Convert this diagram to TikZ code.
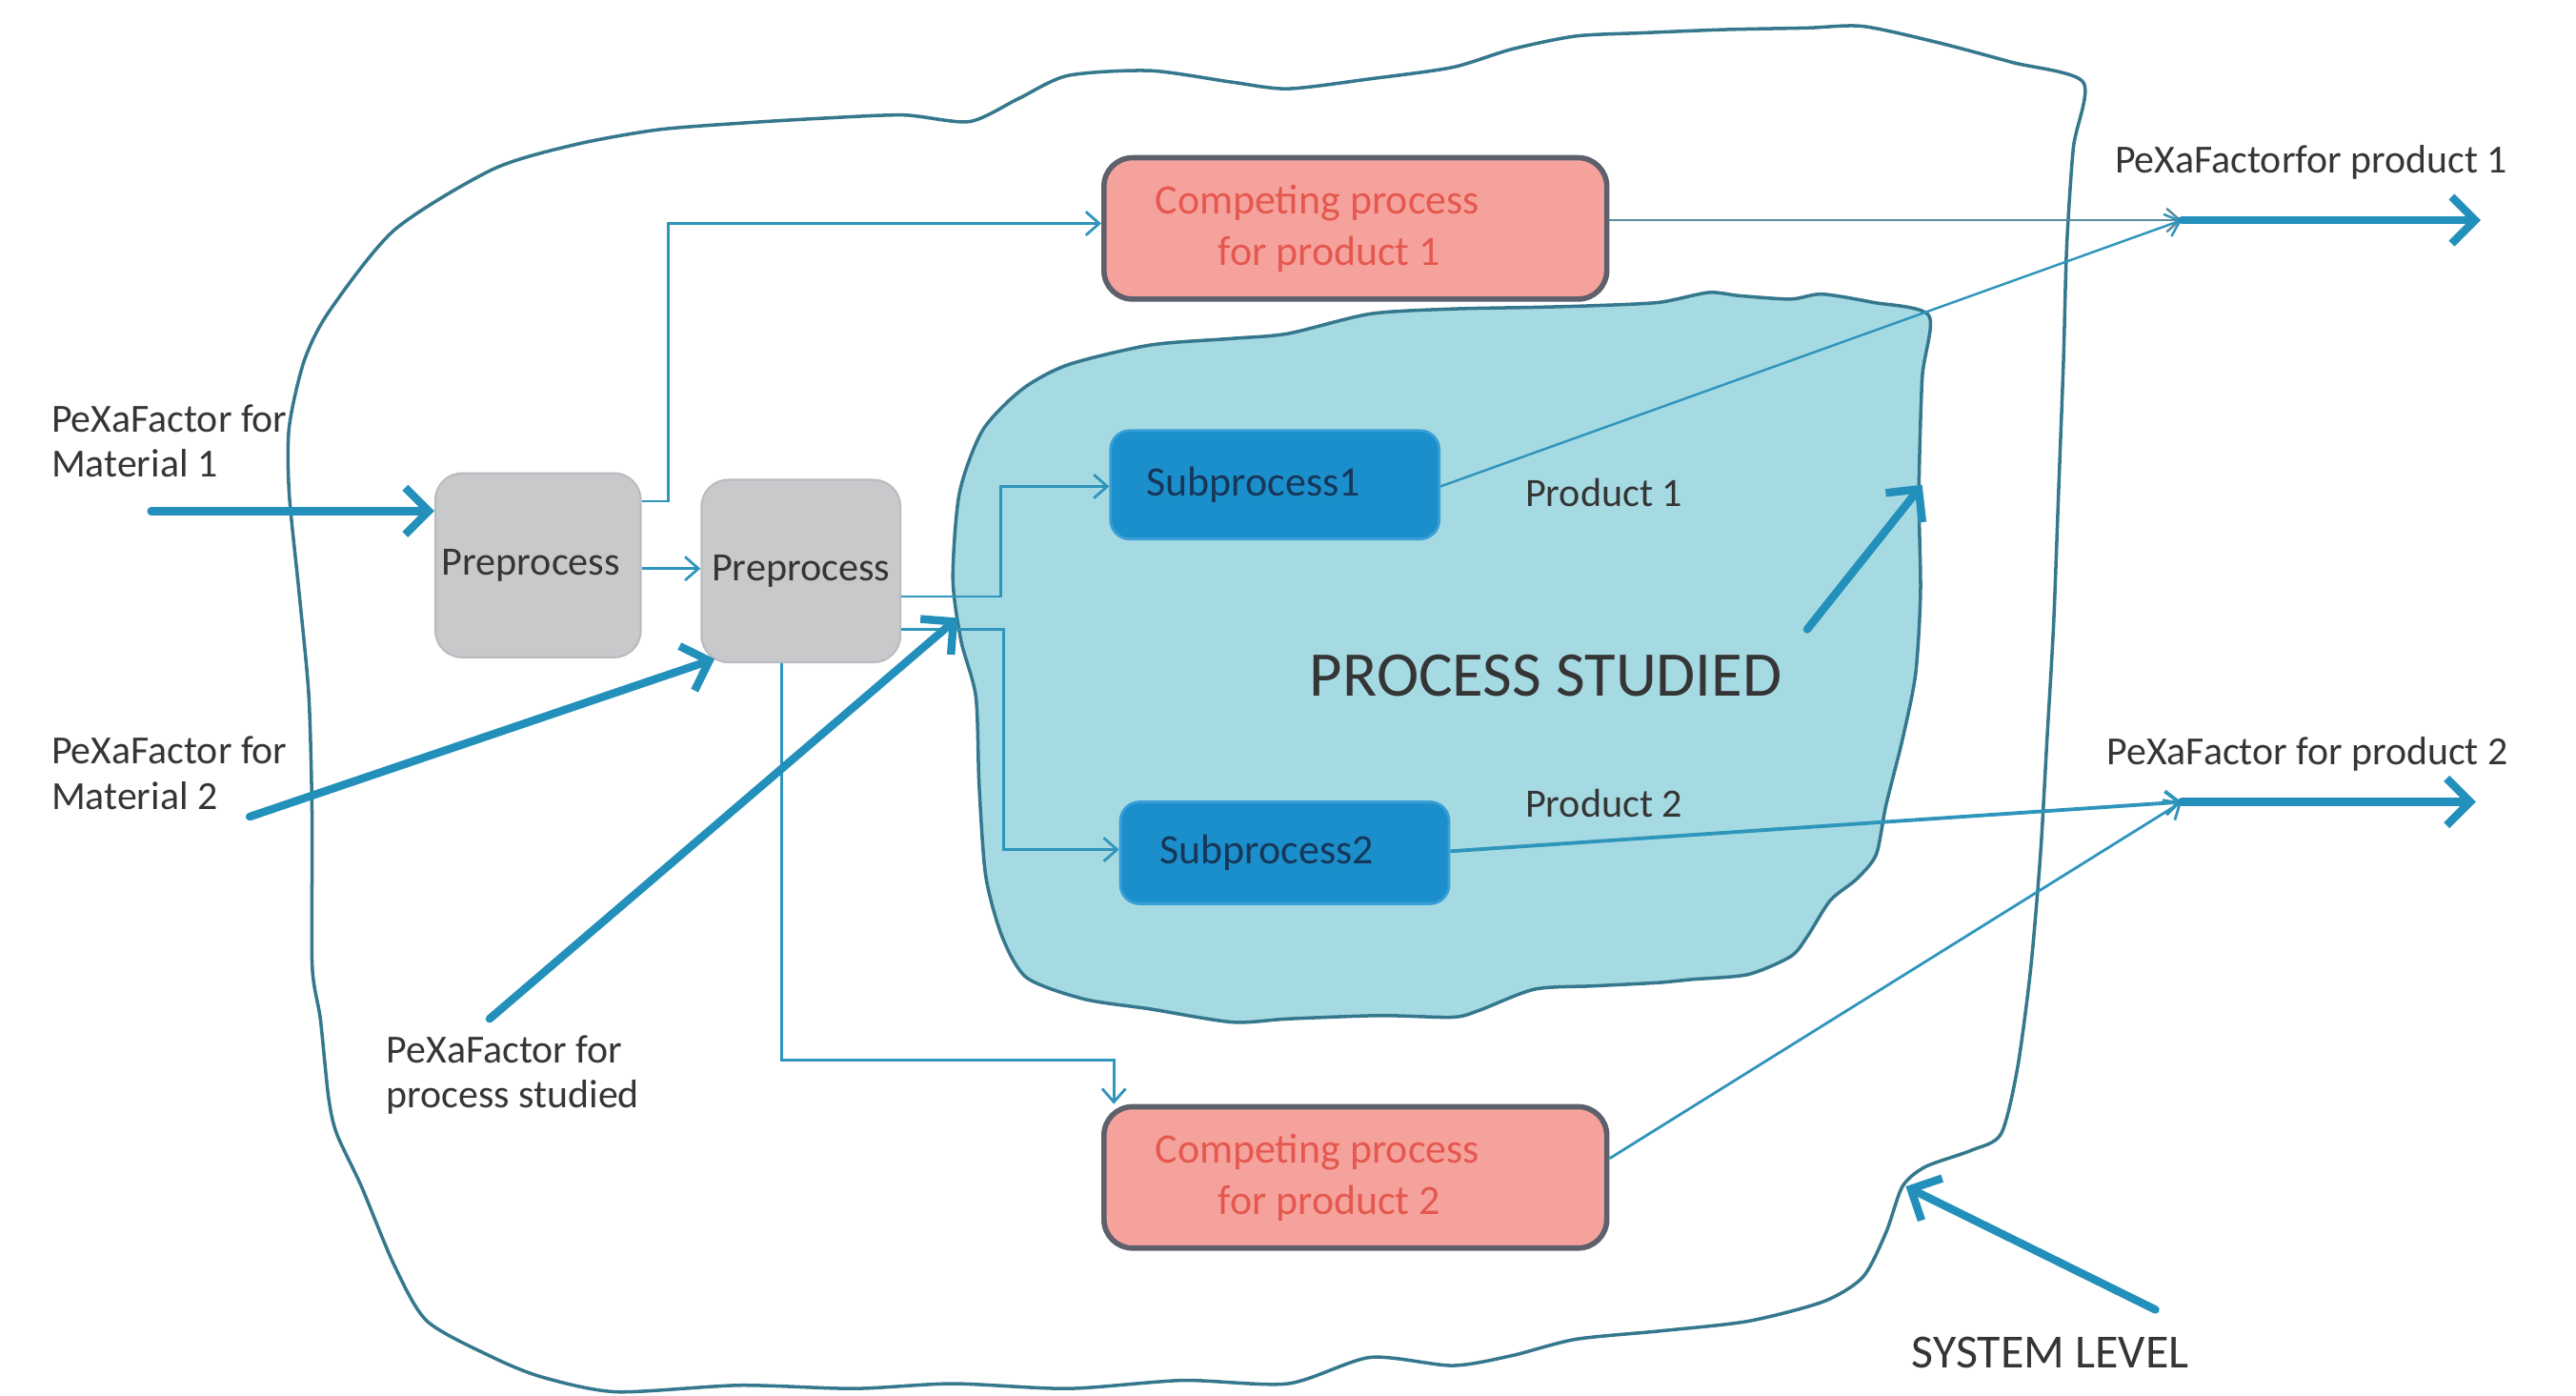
\documentclass[tikz,border=0pt]{standalone}
\usepackage{fontspec}
\setmainfont{Carlito}
\usetikzlibrary{arrows.meta,calc}
\definecolor{arrowblue}{HTML}{2390BC}
\definecolor{sysline}{HTML}{35788E}
\definecolor{blobfill}{HTML}{A6DAE3}
\definecolor{connblue}{HTML}{2F95BC}
\definecolor{connGray}{HTML}{5A8D9C}
\definecolor{compfill}{HTML}{F6A29C}
\definecolor{compdraw}{HTML}{5E616C}
\definecolor{comptext}{HTML}{E4584F}
\definecolor{prefill}{HTML}{C8C9CB}
\definecolor{predraw}{HTML}{BABBBE}
\definecolor{subfill}{HTML}{1B8FCB}
\definecolor{subdraw}{HTML}{3A9FD6}
\definecolor{subtext}{HTML}{16375A}
\definecolor{labeltext}{HTML}{353535}
\tikzset{
  bigarrow/.style={draw=arrowblue, line width=2.4pt, line cap=round,
    -{Straight Barb[length=7pt,width=14pt]}},
  conn/.style={draw=connblue, line width=0.8pt, -{Straight Barb[length=4pt,width=7pt]}},
  compbox/.style={draw=compdraw, line width=1.6pt, fill=compfill, rounded corners=0.3cm,
    text=comptext, align=center, inner sep=0pt, minimum width=5.277cm, minimum height=1.483cm,
    font=\fontsize{12.5}{15.5}\selectfont},
  prebox/.style={draw=predraw, line width=0.6pt, fill=prefill, rounded corners=0.28cm,
    text=labeltext, inner sep=0pt, font=\fontsize{12}{14}\selectfont},
  subbox/.style={draw=subdraw, line width=0.8pt, fill=subfill, rounded corners=0.2cm,
    text=subtext, inner sep=0pt, minimum width=3.449cm, font=\fontsize{12.5}{15}\selectfont},
  lbl/.style={text=labeltext, align=left, inner sep=0pt, font=\fontsize{11.9}{13.4}\selectfont},
}
\begin{document}
\begin{tikzpicture}[x=0.017245cm,y=-0.017245cm]
\useasboundingbox (0,0) rectangle (1568,849);

% system boundary
\draw[sysline, line width=1pt] plot[smooth cycle, tension=0.45] coordinates {
(200,190) (240,140) (300,103) (350,88) (400,79) (450,75) (500,72) (550,70) (590,74)
(620,60) (650,46) (700,43) (750,50) (784,54) (834,48) (884,41) (920,30) (959,22)
(1000,20) (1050,18) (1100,17) (1134,16) (1180,26) (1225,38) (1268,50) (1262,90)
(1258,150) (1256,220) (1253,300) (1250,380) (1246,450) (1242,520) (1236,590)
(1228,650) (1218,690) (1200,700) (1172,710) (1158,722) (1148,750) (1134,777)
(1110,792) (1064,804) (1010,810) (959,815) (920,825) (884,831) (834,826) (784,842)
(720,840) (650,845) (580,842) (520,845) (450,843) (375,847) (330,838) (300,826)
(260,804) (240,770) (220,722) (205,690) (200,668) (195,620) (190,587) (190,500)
(188,424) (182,360) (176,300) (176,260) (185,220)};

% process studied blob
\draw[sysline, line width=1pt, fill=blobfill] plot[smooth cycle, tension=0.45] coordinates {
(580,352) (584,300) (598,262) (622,237) (650,222) (700,210) (750,206) (784,203)
(834,191) (884,188) (934,187) (970,186) (1010,184) (1040,178) (1059,180) (1090,182)
(1109,179) (1140,184) (1174,192) (1170,230) (1168,300) (1169,360) (1166,410)
(1158,450) (1148,490) (1142,520) (1130,535) (1114,548) (1100,570) (1090,582)
(1064,593) (1030,596) (1009,598) (970,600) (934,602) (900,615) (884,619) (840,618)
(784,620) (750,622) (700,614) (660,608) (625,595) (610,570) (600,533) (596,478)
(594,424) (585,390)};

% boxes
\node[compbox] (comp1) at (825,139) {Competing process\hspace*{0.8cm}\\for product 1\hspace*{0.55cm}};
\node[compbox] (comp2) at (825,716.5) {Competing process\hspace*{0.8cm}\\for product 2\hspace*{0.55cm}};
\node[prebox, minimum width=2.156cm, minimum height=1.931cm] (pre1) at (327.5,344) {Preprocess\hspace*{0.15cm}};
\node[prebox, minimum width=2.087cm, minimum height=1.914cm] (pre2) at (487.5,347.5) {Preprocess};
\node[subbox, minimum height=1.138cm] (sub1) at (776,295) {\raisebox{-0.06cm}{Subprocess1}\hspace*{0.45cm}};
\node[subbox, minimum height=1.069cm] (sub2) at (782,519) {Subprocess2\hspace*{0.38cm}};

% labels
\node[lbl, anchor=north west] (lm1) at (31,246) {PeXaFactor for\\Material 1};
\node[lbl, anchor=north west] (lm2) at (31,448) {PeXaFactor for\\Material 2};
\node[lbl, anchor=north west] (lps) at (235,630) {PeXaFactor for\\process studied};
\node[lbl, anchor=north west] (lp1) at (1287,88) {PeXaFactorfor product 1};
\node[lbl, anchor=north west] (lp2) at (1282,448) {PeXaFactor for product 2};
\node[lbl, anchor=north west, font=\fontsize{12}{14}\selectfont] (prod1) at (928,291) {Product 1};
\node[lbl, anchor=north west, font=\fontsize{12}{14}\selectfont] (prod2) at (928,480) {Product 2};
\node[text=labeltext, inner sep=0pt, font=\fontsize{19}{22}\selectfont] (ps) at (941,411) {PROCESS STUDIED};
\node[text=labeltext, inner sep=0pt, font=\fontsize{14.2}{16}\selectfont] (sl) at (1248,823) {SYSTEM LEVEL};

% coordinates
\coordinate (p1) at (1328,134);
\coordinate (o1) at (1510,134);
\coordinate (p2) at (1328,488);
\coordinate (o2) at (1507,488);
\coordinate (m1s) at (92,311);
\coordinate (m2s) at (152,497);
\coordinate (m2e) at (435,401);
\coordinate (pss) at (298,620);
\coordinate (pse) at (583,376);
\coordinate (bs) at (1100,383);
\coordinate (be) at (1170,295);
\coordinate (ss) at (1312,797);
\coordinate (se) at (1160,722);

% internal connectors
\draw[conn] (pre1.east |- 0,305) -| (407,136) -- (comp1.west |- 0,136);
\draw[conn] (pre1.east |- 0,346) -- (pre2.west |- 0,346);
\draw[conn] (pre2.east |- 0,363) -| (609,296) -- (sub1.west |- 0,296);
\draw[conn] (pre2.east |- 0,383) -| (611,517) -- (sub2.west |- 0,517);
\draw[conn] (pre2.south -| 476,0) |- (678,645) -- (comp2.north -| 678,0);
\draw[conn, draw=connGray, line width=0.7pt] (comp1.east |- 0,134) -- (p1);
\draw[conn, line width=0.7pt] (sub1.east |- 0,296) -- (p1);
\draw[conn, line width=1.1pt] (sub2.east |- 0,518) -- (p2);
\draw[conn] (comp2.east |- 0,705) -- (p2);

% thick arrows
\draw[bigarrow] (p1) -- (o1);
\draw[bigarrow] (p2) -- (o2);
\draw[bigarrow] (m1s) -- (pre1.west |- 0,311);
\draw[bigarrow] (m2s) -- (m2e);
\draw[bigarrow] (pss) -- (pse);
\draw[bigarrow] (bs) -- (be);
\draw[bigarrow] (ss) -- (se);
\end{tikzpicture}
\end{document}
